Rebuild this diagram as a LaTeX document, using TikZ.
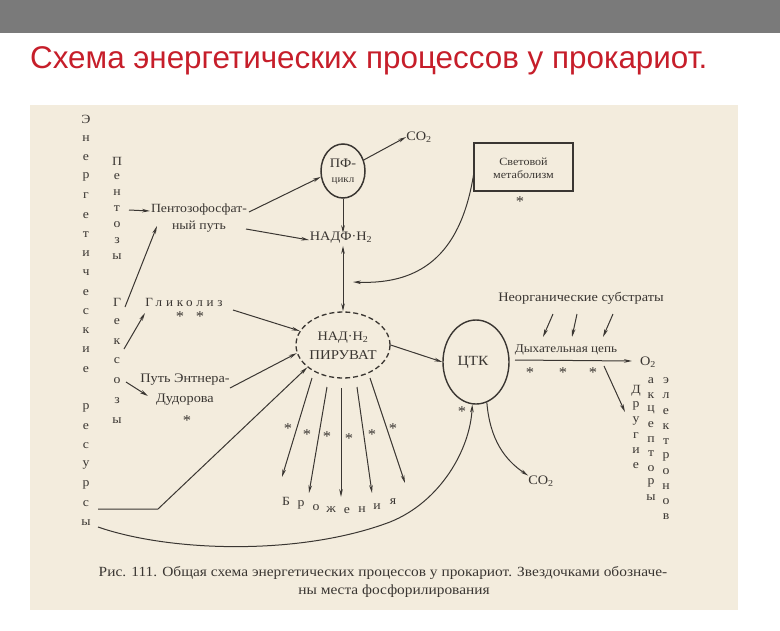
\documentclass[tikz,border=0pt]{standalone}
\usepackage{fontspec}
\setmainfont[FakeStretch=1.1]{Liberation Serif}
\newfontfamily\titlefont{Liberation Sans}
\newfontfamily\spacedfont[LetterSpace=30,FakeStretch=1.05]{Liberation Serif}
\usetikzlibrary{arrows.meta,shapes.geometric}
\definecolor{ink}{RGB}{58,54,50}
\definecolor{paper}{RGB}{243,236,221}
\definecolor{titlered}{RGB}{198,30,42}
\definecolor{barcol}{RGB}{122,122,122}
\tikzset{
  lbl/.style={font=\fontsize{12.5}{17}\selectfont, text=ink, inner sep=0pt, align=center},
  lt/.style={font=\fontsize{12.5}{12}\selectfont, text=ink, inner sep=0pt},
  smalllbl/.style={font=\fontsize{11}{13}\selectfont, text=ink, inner sep=0pt, align=center},
  starmark/.style={font=\fontsize{15}{15}\selectfont, text=ink, inner sep=0pt},
  arr/.style={draw=ink, line width=1pt, -{Stealth[length=8pt,width=3.6pt]}},
  dblarr/.style={draw=ink, line width=1pt, {Stealth[length=8pt,width=3.6pt]}-{Stealth[length=8pt,width=3.6pt]}},
}
\begin{document}
\begin{tikzpicture}[x=1pt,y=-1pt]
\useasboundingbox (0,0) rectangle (780,630);
\fill[barcol] (0,0) rectangle (780,33);
\fill[paper] (30,105) rectangle (738,610);

% title
\node[anchor=base west, inner sep=0pt, text=titlered, font=\titlefont\fontsize{31.4}{32}\selectfont] (title) at (30,68) {Схема энергетических процессов у прокариот.};

% vertical column: Энергетические ресурсы
\foreach \l [count=\i from 0] in {Э,н,е,р,г,е,т,и,ч,е,с,к,и,е}
  \node[lt] (res\i) at (86,{119+\i*19.24}) {\l};
\foreach \l [count=\i from 15] in {р,е,с,у,р,с,ы}
  \node[lt] (res\i) at (86,{119+\i*19.24}) {\l};
% Пентозы
\foreach \l [count=\i from 0] in {П,е,н,т,о,з,ы}
  \node[lt] (pen\i) at (117,{161+\i*16}) {\l};
% Гексозы
\foreach \l [count=\i from 0] in {Г,е,к,с,о,з,ы}
  \node[lt] (hex\i) at (117,{302+\i*19.7}) {\l};
% Другие акцепторы электронов
\foreach \l [count=\i from 0] in {Д,р,у,г,и,е}
  \node[lt] (dr\i) at (636,{391+\i*15}) {\l};
\foreach \l [count=\i from 0] in {а,к,ц,е,п,т,о,р,ы}
  \node[lt] (ak\i) at (651,{381+\i*14.6}) {\l};
\foreach \l [count=\i from 0] in {э,л,е,к,т,р,о,н,о,в}
  \node[lt] (el\i) at (666,{381+\i*15.1}) {\l};

% text nodes
\node[lbl] (ppp) at (199,218) {Пентозофосфат-\\ный путь};
\node[lbl, font=\spacedfont\fontsize{12.5}{14}\selectfont] (glyc) at (184,302) {Гликолиз};
\node[starmark] (sg1) at (180,317) {*};
\node[starmark] (sg2) at (200,317) {*};
\node[lbl, font=\fontsize{13}{20}\selectfont] (ed) at (185,390) {Путь Энтнера-\\Дудорова};
\node[starmark] (sed) at (187,421) {*};

\node[draw=ink, line width=1.5pt, ellipse, minimum width=44pt, minimum height=54pt, inner sep=0pt] (pf) at (343,171) {};
\node[lbl, font=\fontsize{13}{14}\selectfont] (pft) at (343,163) {ПФ-};
\node[lbl, font=\fontsize{10}{11}\selectfont] (pfc) at (343,181) {цикл};
\node[lbl, font=\fontsize{13}{14}\selectfont] (co2a) at (419,137) {CO\textsubscript{2}};
\node[lbl, font=\fontsize{13}{14}\selectfont] (nadf) at (341,238) {НАДФ·Н\textsubscript{2}};

\node[draw=ink, line width=1.6pt, minimum width=99pt, minimum height=48pt, inner sep=0pt] (light) at (523.5,167) {};
\node[smalllbl] (lightt) at (523.5,168) {Световой\\метаболизм};
\node[starmark] (slight) at (520,202) {*};

\node[draw=ink, line width=1.3pt, dash pattern=on 5pt off 3pt, ellipse, minimum width=94pt, minimum height=66pt, inner sep=0pt] (nad) at (343,345) {};
\node[lbl, font=\fontsize{13}{14}\selectfont] (nadt) at (343,338) {НАД·Н\textsubscript{2}};
\node[lbl, font=\fontsize{13.5}{14}\selectfont] (pir) at (343,355) {ПИРУВАТ};

\node[draw=ink, line width=1.4pt, ellipse, minimum width=66pt, minimum height=84pt, inner sep=0pt] (ctk) at (476,362) {};
\node[lbl, font=\fontsize{14}{15}\selectfont] (ctkt) at (473,362) {ЦТК};
\node[starmark] (sctk) at (462,412) {*};
\node[lbl, font=\fontsize{13}{14}\selectfont] (co2b) at (541,481) {CO\textsubscript{2}};

\node[lbl, font=\fontsize{13}{14}\selectfont] (inorg) at (581,298) {Неорганические субстраты};
\node[lbl, font=\fontsize{12}{13}\selectfont] (resp) at (566,350) {Дыхательная цепь};
\node[lbl, font=\fontsize{13}{14}\selectfont] (o2) at (648,362) {O\textsubscript{2}};
\node[starmark] (sr1) at (530,373) {*};
\node[starmark] (sr2) at (563,373) {*};
\node[starmark] (sr3) at (593,373) {*};

% fermentation stars and label
\foreach \x/\y [count=\i] in {288/429,307/435,327/437,349/439,372/435,393/429}
  \node[starmark] (sf\i) at (\x,\y) {*};
\foreach \l/\x/\y [count=\i] in {Б/286/501,р/301/505,о/316/508,ж/331/510,е/347/511,н/362/510,и/377/507,я/393/502}
  \node[lt] (fer\i) at (\x,\y) {\l};

% connector end points
\coordinate (a1s) at (129,210); \coordinate (a1e) at (150,211);
\coordinate (a2s) at (125,307); \coordinate (a2e) at (157,226);
\coordinate (a3s) at (249,212); \coordinate (a4s) at (246,229);
\coordinate (a4e) at (309,240);
\coordinate (a5s) at (124,349); \coordinate (a5e) at (145,313);
\coordinate (a6s) at (126,382); \coordinate (a6e) at (148,396);
\coordinate (a7s) at (233,310); \coordinate (a8s) at (230,388);
\coordinate (a9s) at (98,509); \coordinate (a9m) at (158,509);
\coordinate (a10s) at (98,527);
\coordinate (ls) at (474,172); \coordinate (le) at (353,282);
\coordinate (rs) at (515,360); \coordinate (re) at (632,361);
\coordinate (ds) at (604,366); \coordinate (de) at (625,412);

% connectors
\draw[arr] (a1s) -- (a1e);
\draw[arr] (a2s) -- (a2e);
\draw[arr] (a3s) -- (pf.195);
\draw[arr] (a4s) -- (a4e);
\draw[arr] (pf.28) -- (co2a.west);
\draw[arr] (pf.south) -- ([yshift=-1pt]nadf.north -| pf.south);
\draw[dblarr] ([yshift=-2pt]nadf.south -| nad.north) -- (nad.north);
\draw[arr] (ls) .. controls (462,250) and (425,285) .. (le);
\draw[arr] (a5s) -- (a5e);
\draw[arr] (a6s) -- (a6e);
\draw[arr] (a7s) -- (nad.162);
\draw[arr] (a8s) -- (nad.190);
\draw[arr] (a9s) -- (a9m) -- (nad.212);
\draw[arr] (a10s) .. controls (170,552) and (300,556) .. (390,522) .. controls (440,502) and (470,450) .. (ctk.265);
\draw[arr] (nad.east) -- (ctk.west);
\draw[arr] (ctk.285) .. controls (490,440) and (505,460) .. (co2b.north west);
\draw[arr] (rs) -- (re);
\draw[arr] (ds) -- (de);
\foreach \xs/\xe in {553/543,577/572,613/603}
  \draw[arr] (\xs,314) -- (\xe,337);
% fermentation arrows
\foreach \xs/\ys/\xe/\ye in {312/378/282/477,327/387/309/493,341/388/341/497,357/387/372/493,370/378/405/483}
  \draw[arr] (\xs,\ys) -- (\xe,\ye);

% caption
\node[lbl, font=\fontsize{14}{17}\selectfont] (cap1) at (383,573) {Рис. 111. Общая схема энергетических процессов у прокариот. Звездочками обозначе-};
\node[lbl, font=\fontsize{14}{17}\selectfont] (cap2) at (394,591) {ны места фосфорилирования};
\end{tikzpicture}
\end{document}
